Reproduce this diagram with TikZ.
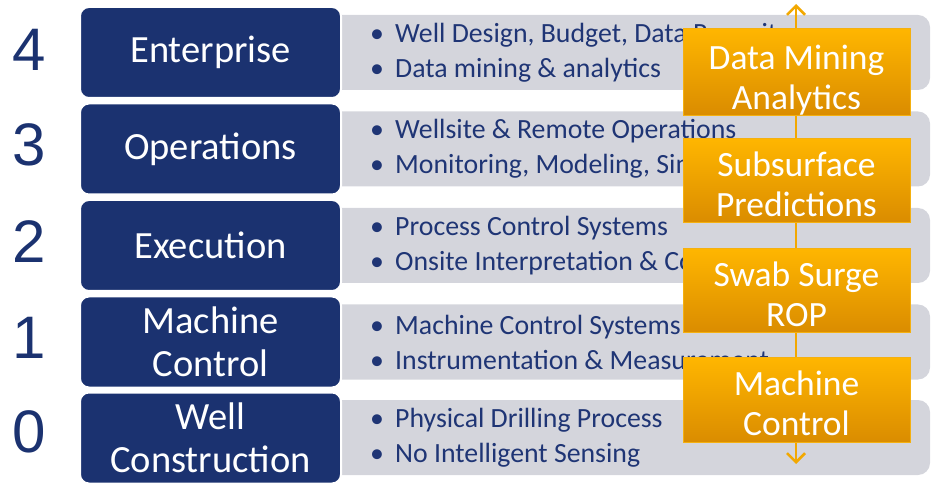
\documentclass[tikz,border=0pt]{standalone}
\usepackage{fontspec}
\setmainfont{Carlito}
\newfontfamily\numfont{Liberation Sans}
\usetikzlibrary{arrows.meta}
\definecolor{navy}{HTML}{1B3270}
\definecolor{bartext}{HTML}{1F3575}
\definecolor{bargray}{HTML}{D4D5DC}
\definecolor{orgtop}{HTML}{FFB600}
\definecolor{orgbot}{HTML}{DA8C00}
\definecolor{orgline}{HTML}{F4B010}
\definecolor{flowcol}{HTML}{F2A800}
\newcommand{\bul}{\makebox[25pt][l]{\textbullet}}
\newcommand{\lowr}[1][7pt]{\raisebox{#1}{\vphantom{Mbdl}}}
\begin{document}
\begin{tikzpicture}[x=1pt,y=-1pt,
  levelbox/.style={rectangle, rounded corners=9pt, fill=navy, draw=white, line width=2pt,
    minimum width=261pt, minimum height=91pt, text=white, align=center,
    font=\fontsize{38.5}{43}\selectfont, inner sep=0pt},
  bar/.style={rectangle, rounded corners=12pt, fill=bargray, minimum width=610pt,
    minimum height=75pt, inner sep=0pt},
  bartxt/.style={anchor=west, inner sep=0pt, align=left, text=bartext,
    font=\fontsize{27.8}{35}\selectfont},
  levelnum/.style={text=navy, font=\numfont\fontsize{60}{62}\selectfont, inner sep=0pt},
  obox/.style={rectangle, top color=orgtop, bottom color=orgbot, draw=orgline, line width=1pt,
    minimum width=227pt, minimum height=84pt, text=white, align=center,
    font=\fontsize{35.5}{40}\selectfont, inner sep=0pt},
  flow/.style={draw=flowcol, line width=2.5pt,
    {Straight Barb[length=9pt,width=18pt]}-{Straight Barb[length=9pt,width=18pt]}}
]
\useasboundingbox (0,0) rectangle (932,486);

% gray bars
\node[bar] (g4) at (625,52.5) {};
\node[bar] (g3) at (625,149) {};
\node[bar] (g2) at (625,245.5) {};
\node[bar] (g1) at (625,342) {};
\node[bar] (g0) at (625,437.5) {};

% bar texts
\node[bartxt] (t4) at (370,52.5) {\bul Well Design, Budget, Data Repository\\\bul Data mining \& analytics};
\node[bartxt] (t3) at (370,149) {\bul Wellsite \& Remote Operations\\\bul Monitoring, Modeling, Simulation};
\node[bartxt] (t2) at (370,245.5) {\bul Process Control Systems\\\bul Onsite Interpretation \& Control};
\node[bartxt] (t1) at (370,342) {\bul Machine Control Systems\\\bul Instrumentation \& Measurement};
\node[bartxt] (t0) at (370,437.5) {\bul Physical Drilling Process\\\bul No Intelligent Sensing};

% level boxes
\node[levelbox] (l4) at (210.5,52.5) {Enterprise};
\node[levelbox] (l3) at (210.5,149) {Operations};
\node[levelbox] (l2) at (210.5,245.5) {Execution};
\node[levelbox] (l1) at (210.5,342) {Machine\\Control};
\node[levelbox] (l0) at (210.5,438) {Well\\Construction};

% level numbers
\node[levelnum] (n4) at (29,50) {4};
\node[levelnum] (n3) at (29,145) {3};
\node[levelnum] (n2) at (29,242) {2};
\node[levelnum] (n1) at (29,338) {1};
\node[levelnum] (n0) at (29,432) {0};

% flow arrow
\coordinate (top) at (796,4);
\coordinate (bot) at (796,464);
\draw[flow] (bot) -- (top);

% orange boxes
\node[obox] (o4) at (796.5,72) {\lowr[16pt]Data Mining\\Analytics};
\node[obox] (o3) at (796.5,180.5) {\lowr[8pt]Subsurface\\Predictions};
\node[obox] (o2) at (796.5,290.5) {\lowr Swab Surge\\ROP};
\node[obox] (o1) at (796.5,400) {\lowr Machine\\Control};
\end{tikzpicture}
\end{document}
